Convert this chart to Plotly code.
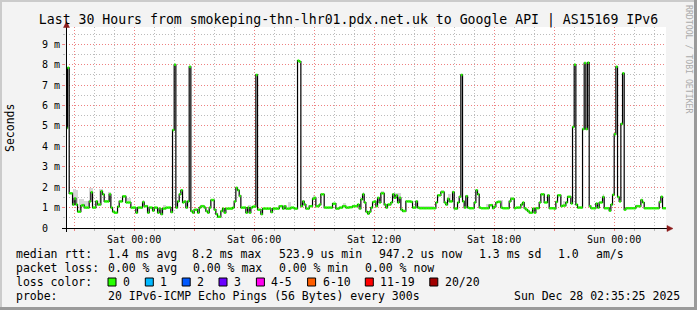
import plotly.graph_objects as go
import pandas as pd

# ---------------- data (median RTT in ms, one value per 5-minute step) ----------------
median_ms = [
    4.9, 7.85, 1.7, 1.7, 1.15, 1.45, 1.15, 0.8, 0.8, 1.1,
    1.12, 1.0, 1.0, 1.0, 1.3, 1.75, 1.0, 1.0, 1.3, 1.15,
    1.15, 1.8, 1.65, 1.3, 1.3, 1.3, 1.65, 1.0, 0.8, 0.75,
    0.75, 1.05, 1.3, 1.3, 1.55, 1.55, 1.25, 1.25, 1.25, 1.0,
    1.0, 1.0, 0.75, 1.0, 1.0, 1.0, 1.27, 1.07, 1.07, 0.75,
    1.0, 1.0, 0.85, 1.0, 1.0, 0.75, 0.95, 0.68, 0.95, 0.95,
    1.0, 1.0, 1.0, 0.78, 4.8, 8.0, 1.0, 1.3, 1.65, 1.85,
    1.25, 1.3, 1.0, 1.3, 7.9, 0.83, 0.75, 0.9, 0.9, 0.75,
    1.0, 1.07, 1.07, 1.0, 0.83, 0.75, 1.0, 1.37, 1.37, 0.9,
    0.68, 0.55, 0.55, 0.83, 0.95, 0.75, 0.95, 0.95, 0.95, 0.95,
    1.0, 1.3, 1.97, 1.85, 1.57, 1.0, 1.0, 1.0, 0.75, 1.0,
    0.75, 1.0, 1.05, 1.05, 7.5, 0.9, 0.9, 0.68, 0.95, 0.95,
    0.95, 0.95, 0.95, 0.78, 0.95, 0.95, 0.95, 0.95, 1.07, 1.07,
    0.95, 1.07, 0.95, 0.95, 0.95, 1.0, 1.0, 0.95, 0.95, 8.2,
    8.15, 1.07, 1.3, 1.15, 0.95, 0.95, 1.07, 1.07, 1.43, 1.48,
    1.07, 1.07, 1.15, 1.65, 1.65, 1.0, 1.0, 1.0, 1.0, 1.0,
    1.19, 1.19, 0.95, 0.95, 1.0, 1.0, 1.07, 1.07, 1.0, 1.0,
    1.02, 1.02, 1.07, 1.07, 1.07, 1.15, 0.95, 1.4, 1.65, 1.25,
    0.8, 0.7, 0.8, 1.0, 1.27, 1.3, 1.07, 1.48, 1.25, 1.7,
    1.7, 1.15, 1.0, 1.15, 1.15, 1.25, 1.65, 1.48, 1.6, 1.25,
    1.48, 0.9, 0.83, 0.83, 1.3, 1.3, 1.3, 1.28, 1.0, 1.0,
    1.3, 1.0, 0.97, 0.97, 0.97, 0.97, 0.97, 0.97, 0.97, 0.97,
    0.97, 0.97, 1.25, 1.6, 1.6, 1.76, 1.76, 1.25, 1.15, 1.43,
    1.3, 1.3, 1.76, 0.95, 0.95, 1.25, 1.53, 7.5, 1.3, 1.0,
    1.56, 1.0, 0.97, 0.97, 0.97, 1.25, 1.85, 1.65, 1.0, 0.97,
    0.97, 0.97, 0.97, 0.97, 1.12, 1.12, 0.97, 1.05, 1.25, 1.28,
    1.28, 1.0, 0.97, 0.97, 0.97, 0.97, 1.3, 1.43, 1.43, 0.97,
    1.0, 1.0, 1.0, 1.15, 1.25, 0.97, 0.9, 0.83, 0.75, 0.75,
    0.95, 0.75, 0.97, 0.97, 1.25, 1.65, 1.65, 1.25, 1.25, 1.6,
    0.97, 0.97, 0.97, 0.95, 1.28, 1.6, 1.6, 1.07, 1.1, 1.1,
    1.25, 1.53, 1.53, 1.2, 4.95, 8.0, 1.15, 1.0, 1.0, 1.0,
    4.85, 8.08, 4.85, 8.1, 1.07, 0.97, 0.97, 0.97, 1.2, 1.0,
    1.25, 1.25, 1.52, 0.97, 0.97, 0.97, 0.85, 1.15, 1.63, 4.6,
    7.9, 1.52, 1.3, 5.1, 7.58, 0.9, 0.97, 0.97, 0.97, 0.97,
    0.97, 0.97, 1.07, 1.07, 1.07, 1.37, 1.25, 0.97, 0.97, 0.97,
    0.97, 0.97, 0.97, 0.97, 0.97, 0.97, 1.27, 1.53, 0.97, 0.97,
]
# upper edge of the visible "smoke" (ping spread) at the steps where it shows
smoke_steps = [4, 5, 6, 8, 9, 10, 11, 12, 13, 14, 15, 20, 21, 25, 26, 35, 36, 37, 38, 46, 58, 59,
               109, 110, 133, 134, 148, 166, 167, 178, 189, 190, 197, 198, 199, 200,
               211, 212, 213, 214, 215, 216, 217, 218, 219, 220, 225, 226, 229, 230,
               252, 253, 254, 255, 259, 260, 261, 267, 298, 299, 300, 322]
smoke_top_ms = [1.9, 1.9, 1.85, 1.4, 1.4, 1.4, 1.3, 1.3, 1.3, 1.97, 1.97, 1.9, 1.9, 1.75, 1.75,
                1.48, 1.48, 1.48, 1.48, 1.35, 1.15, 1.15,
                1.15, 1.15, 1.28, 1.28, 1.6, 1.24, 1.24, 1.76, 1.8, 1.8, 1.73, 1.73, 1.73, 1.73,
                1.1, 1.1, 1.1, 1.1, 1.1, 1.1, 1.1, 1.1, 1.1, 1.1, 1.85, 1.85, 1.65, 1.65,
                1.19, 1.19, 1.19, 1.19, 1.35, 1.35, 1.35, 1.5, 1.3, 1.3, 1.3, 1.65]

start_time = "2025-12-26 20:35:00"
range_start = "2025-12-26 20:35:25"
range_end = "2025-12-28 02:35:25"

xtick_times = list(pd.date_range("2025-12-26 21:00", periods=10, freq="3h").strftime("%Y-%m-%d %H:%M:%S"))
xtick_labels = ["", "Sat 00:00", "", "Sat 06:00", "", "Sat 12:00", "", "Sat 18:00", "", "Sun 00:00"]
ytick_vals = [0, 1, 2, 3, 4, 5, 6, 7, 8, 9]
ytick_labels = ["0\u00a0\u00a0", "1 m", "2 m", "3 m", "4 m", "5 m", "6 m", "7 m", "8 m", "9 m"]

title_text = "Last 30 Hours from smokeping-thn-lhr01.pdx.net.uk to Google API | AS15169 IPv6"
rtt_items = ["median rtt:", "1.4 ms avg", "8.2 ms max", "523.9 us min", "947.2 us now", "1.3 ms sd", "1.0", "am/s"]
loss_items = ["packet loss:", "0.00 % avg", "0.00 % max", "0.00 % min", "0.00 % now"]
loss_color_label = "loss color:"
loss_bucket_labels = ["0", "1", "2", "3", "4-5", "6-10", "11-19", "20/20"]
loss_bucket_colors = ["#26ff00", "#00b8ff", "#0059ff", "#6a00ff", "#ff00ee", "#ff5e00", "#ff0000", "#a10000"]
probe_items = ["probe:", "20 IPv6-ICMP Echo Pings (56 Bytes) every 300s"]
timestamp_text = "Sun Dec 28 02:35:25 2025"
watermark_text = "RRDTOOL / TOBI OETIKER"

# ---------------- layout geometry ----------------
W, H = 697, 310
L, R, T, B = 66, 31, 27, 82
PW, PH = W - L - R, H - T - B
FONT = "DejaVu Sans Mono"


def PX(x):
    return (x - L) / PW


def PY(y):
    return (H - B - y) / PH


times = pd.date_range(start_time, periods=len(median_ms), freq="5min")
step = pd.Timedelta("5min")

# green loss-colour blobs: one short horizontal segment per step
seg_x, seg_y = [], []
for t, v in zip(times, median_ms):
    seg_x += [t, t + step, None]
    seg_y += [v, v, None]

smoke_x = [times[i] + step / 2 for i in smoke_steps]
smoke_base = [median_ms[i] for i in smoke_steps]
smoke_h = [top - median_ms[i] for i, top in zip(smoke_steps, smoke_top_ms)]

fig = go.Figure()
fig.add_trace(go.Bar(
    x=smoke_x, y=smoke_h, base=smoke_base, width=300000,
    marker=dict(color="#d6d6d6", line=dict(width=0)), hoverinfo="skip"))
fig.add_trace(go.Scatter(
    x=list(times) + [times[-1] + step], y=median_ms + [median_ms[-1]],
    mode="lines", line=dict(color="#000000", width=1.2, shape="hv"),
    hoverinfo="skip"))
fig.add_trace(go.Scatter(
    x=seg_x, y=seg_y, mode="lines",
    line=dict(color=loss_bucket_colors[0], width=2.5),
    hoverinfo="skip", connectgaps=False))

GRID_MAJOR = "rgba(255,110,110,0.75)"
GRID_MINOR = "rgba(160,160,160,0.7)"

fig.update_xaxes(
    type="date", range=[range_start, range_end],
    tickmode="array", tickvals=xtick_times, ticktext=xtick_labels,
    showgrid=True, gridcolor=GRID_MAJOR, griddash="1px,2px", gridwidth=1,
    ticks="outside", ticklen=2, tickcolor=GRID_MAJOR,
    minor=dict(tick0="2025-12-26 21:00:00", dtick=3600000, showgrid=True,
               gridcolor=GRID_MINOR, griddash="1px,2px", ticks="outside",
               ticklen=2, tickcolor=GRID_MINOR),
    tickfont=dict(family=FONT, size=10, color="#000000"),
    showline=False, zeroline=False, fixedrange=True,
)
fig.update_yaxes(
    range=[0, 9.85], tickmode="array", tickvals=ytick_vals, ticktext=ytick_labels,
    showgrid=True, gridcolor=GRID_MAJOR, griddash="1px,2px", gridwidth=1,
    ticks="outside", ticklen=3, tickcolor=GRID_MAJOR,
    minor=dict(tick0=0, dtick=0.5, showgrid=True, gridcolor=GRID_MINOR,
               griddash="1px,2px", ticks="outside", ticklen=2, tickcolor=GRID_MINOR),
    tickfont=dict(family=FONT, size=10, color="#000000"),
    showline=False, zeroline=False, fixedrange=True,
)

shapes = []
# frame shading
shapes.append(dict(type="rect", xref="paper", yref="paper", x0=PX(0), x1=PX(2), y0=PY(0), y1=PY(H),
                   fillcolor="#cbcbcb", line=dict(width=0), layer="above"))
shapes.append(dict(type="rect", xref="paper", yref="paper", x0=PX(0), x1=PX(W), y0=PY(0), y1=PY(2),
                   fillcolor="#cbcbcb", line=dict(width=0), layer="above"))
shapes.append(dict(type="rect", xref="paper", yref="paper", x0=PX(W - 3), x1=PX(W), y0=PY(0), y1=PY(H),
                   fillcolor="#9a9a9a", line=dict(width=0), layer="above"))
shapes.append(dict(type="rect", xref="paper", yref="paper", x0=PX(0), x1=PX(W), y0=PY(H - 3), y1=PY(H),
                   fillcolor="#9a9a9a", line=dict(width=0), layer="above"))
# axes with arrows
shapes.append(dict(type="line", xref="paper", yref="paper", x0=PX(62), x1=PX(668), y0=PY(228.5), y1=PY(228.5),
                   line=dict(color="#000000", width=1), layer="above"))
shapes.append(dict(type="line", xref="paper", yref="paper", x0=PX(66.5), x1=PX(66.5), y0=PY(232), y1=PY(26),
                   line=dict(color="#000000", width=1), layer="above"))
shapes.append(dict(type="path", xref="paper", yref="paper",
                   path=f"M {PX(667)} {PY(225.5)} L {PX(673)} {PY(228.5)} L {PX(667)} {PY(231.5)} Z",
                   fillcolor="#8b1a1a", line=dict(color="#8b1a1a", width=0.5), layer="above"))
shapes.append(dict(type="path", xref="paper", yref="paper",
                   path=f"M {PX(63.5)} {PY(27.5)} L {PX(66.5)} {PY(21.5)} L {PX(69.5)} {PY(27.5)} Z",
                   fillcolor="#8b1a1a", line=dict(color="#8b1a1a", width=0.5), layer="above"))

annotations = []


def text(x, y, s, anchor="left", size=11.5, color="#000000", angle=0, yanchor="middle"):
    annotations.append(dict(x=PX(x), y=PY(y), xref="paper", yref="paper", text=s, showarrow=False,
                            xanchor=anchor, yanchor=yanchor, textangle=angle, borderpad=0,
                            font=dict(family=FONT, size=size, color=color)))


rtt_x = [16.4, 108, 192.4, 279, 379, 479, 557.8, 595.6]
for s, x in zip(rtt_items, rtt_x):
    text(x - 1, 254, s)
loss_x = [16.4, 108, 193.3, 279, 365.3]
for s, x in zip(loss_items, loss_x):
    text(x - 1, 268, s)
text(16.4 - 1, 282, loss_color_label)
box_x = [108, 145.3, 182.2, 219, 256.4, 307.6, 365.3, 429.8]
for s, c, x in zip(loss_bucket_labels, loss_bucket_colors, box_x):
    shapes.append(dict(type="rect", xref="paper", yref="paper", x0=PX(x), x1=PX(x + 8), y0=PY(278), y1=PY(286),
                       fillcolor=c, line=dict(color="#000000", width=1), layer="above"))
    text(x + 15 - 1, 282, s)
text(16.4 - 1, 296, probe_items[0])
text(108 - 1, 296, probe_items[1])
text(680.5, 296, timestamp_text, anchor="right")

text(10, 128, "Seconds", anchor="center", size=11.5, angle=-90)
text(688.5, 4, watermark_text, anchor="center", size=8.2, color="#ababab", angle=90, yanchor="top")

fig.update_layout(
    width=W, height=H, margin=dict(l=L, r=R, t=T, b=B, autoexpand=False),
    paper_bgcolor="#f3f3f3", plot_bgcolor="#ffffff",
    showlegend=False, hovermode=False, bargap=0,
    title=dict(text=title_text, x=0.5, xref="container", xanchor="center",
               y=1 - 19 / H, yref="container", yanchor="middle",
               font=dict(family=FONT, size=13.2, color="#000000")),
    shapes=shapes, annotations=annotations,
)

fig.write_html("out.html", config={"displayModeBar": False, "staticPlot": True})
